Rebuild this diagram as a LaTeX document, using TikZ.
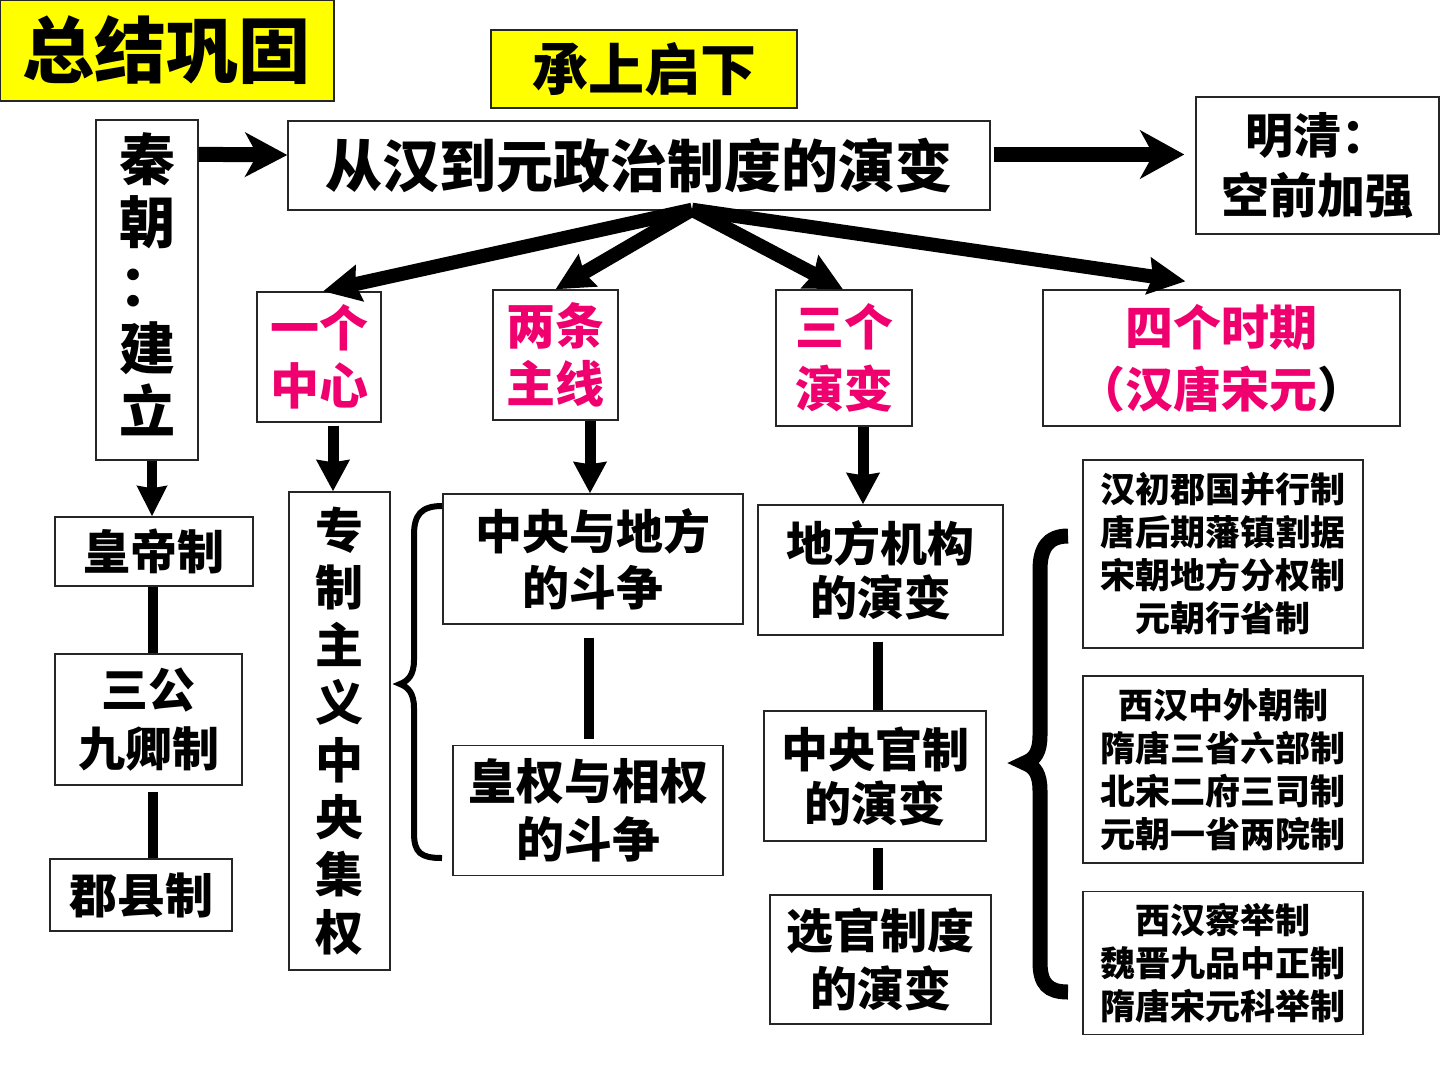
\documentclass[tikz,border=0pt]{standalone}
\usepackage{fontspec}
\setmainfont{Noto Sans CJK SC}
\usetikzlibrary{arrows.meta}
\definecolor{hlyellow}{RGB}{255,255,0}
\definecolor{keypink}{RGB}{240,0,110}
\newcommand\setfs[2]{\fontsize{#1}{#2}\selectfont}
\begin{document}
\begin{tikzpicture}[x=1pt,y=-1pt,
  box/.style={draw=black!85, line width=1.4pt, fill=white, inner sep=0pt, align=center},
  ybox/.style={box, fill=hlyellow},
  plain/.style={inner sep=0pt, align=center},
  thickarrow/.style={line width=15pt, -{Stealth[length=44pt,width=48pt,inset=13pt]}},
  fanarrow/.style={line width=14pt, -{Stealth[length=37pt,width=36pt,inset=4pt]}},
  downarrow/.style={line width=11pt, -{Stealth[length=31pt,width=32pt,inset=2pt]}},
  link/.style={line width=10pt},
  smallbrace/.style={line width=6pt},
  bigbrace/.style={line width=15pt}
]
\useasboundingbox (0,0) rectangle (1440,1080);
\fill[white] (0,0) rectangle (1440,1080);

% top row
\node[ybox, minimum width=334pt, minimum height=101pt, font=\bfseries\setfs{72}{80}] (title) at (167,50.5) {总结巩固};
\node[ybox, minimum width=306pt, minimum height=78pt, font=\bfseries\setfs{56}{60}] (cs) at (644,69) {承上启下};
\node[box, minimum width=102pt, minimum height=340pt] (qin) at (147,290) {};
\node[plain, font=\bfseries\setfs{56}{63}] (qintext) at (147,284) {秦\\朝\\：\\建\\立};
\node[box, minimum width=702pt, minimum height=89pt, font=\bfseries\setfs{57}{66}] (main) at (639,165.5) {从汉到元政治制度的演变};
\node[box, minimum width=243pt, minimum height=137pt, font=\bfseries\setfs{48}{60}] (mq) at (1317.5,165.5) {明清：\\空前加强};

% second row
\node[box, minimum width=124pt, minimum height=130pt, font=\bfseries\setfs{49}{58}, text=keypink] (yige) at (319,357) {一个\\中心};
\node[box, minimum width=125pt, minimum height=130pt, font=\bfseries\setfs{49}{58}, text=keypink] (liang) at (555.5,355) {两条\\主线};
\node[box, minimum width=136pt, minimum height=136pt, font=\bfseries\setfs{49}{62}, text=keypink] (sange) at (844,358) {三个\\演变};
\node[box, minimum width=357pt, minimum height=136pt, font=\bfseries\setfs{48}{62}, text=keypink] (sige) at (1221.5,358) {四个时期\\（汉唐宋元\textcolor{black}{）}};

% left column
\node[box, minimum width=198pt, minimum height=69pt, font=\bfseries\setfs{47}{58}] (huang) at (154,551.5) {皇帝制};
\node[box, minimum width=187pt, minimum height=131pt, font=\bfseries\setfs{47}{59}] (sangong) at (148.5,719.5) {三公\\九卿制};
\node[box, minimum width=182pt, minimum height=72pt, font=\bfseries\setfs{48}{58}] (junxian) at (141,895) {郡县制};

\node[box, minimum width=101pt, minimum height=478pt, font=\bfseries\setfs{48}{57.4}] (zz) at (339.5,731) {专\\制\\主\\义\\中\\央\\集\\权};

% two lines
\node[box, minimum width=300pt, minimum height=130pt, font=\bfseries\setfs{47}{56}] (zydf) at (593,559) {中央与地方\\的斗争};
\node[box, minimum width=270pt, minimum height=130pt, font=\bfseries\setfs{48}{58}] (hq) at (588,810.5) {皇权与相权\\的斗争};

% three changes
\node[box, minimum width=245pt, minimum height=130pt, font=\bfseries\setfs{47}{54}] (dfjg) at (880.5,570) {地方机构\\的演变};
\node[box, minimum width=222pt, minimum height=130pt, font=\bfseries\setfs{47}{54}] (zygz) at (875,776) {中央官制\\的演变};
\node[box, minimum width=221pt, minimum height=129pt, font=\bfseries\setfs{47}{58}] (xg) at (880.5,959.5) {选官制度\\的演变};

% right column
\node[box, minimum width=280pt, minimum height=188pt, font=\bfseries\setfs{35}{43}] (ra) at (1223,554) {汉初郡国并行制\\唐后期藩镇割据\\宋朝地方分权制\\元朝行省制};
\node[box, minimum width=280pt, minimum height=187pt, font=\bfseries\setfs{35}{43}] (rb) at (1223,769.5) {西汉中外朝制\\隋唐三省六部制\\北宋二府三司制\\元朝一省两院制};
\node[box, minimum width=280pt, minimum height=143pt, font=\bfseries\setfs{35}{43}] (rc) at (1223,963) {西汉察举制\\魏晋九品中正制\\隋唐宋元科举制};

% horizontal arrows
\draw[thickarrow, -{Stealth[length=42pt,width=44pt,inset=12pt]}] ([yshift=-35pt]qin.north east) -- ([yshift=10.5pt]main.west);
\draw[thickarrow, shorten <=3pt, shorten >=11pt] ([yshift=11pt]main.east) -- ([yshift=11pt]mq.west);

% fan arrows
\coordinate (fan) at ([xshift=53pt,yshift=1pt]main.south);
\draw[fanarrow] (fan) -- ([xshift=4pt]yige.north);
\draw[fanarrow] (fan) -- (liang.north);
\draw[fanarrow] (fan) -- ([xshift=-1pt]sange.north);
\draw[fanarrow] (fan) -- ([xshift=-36pt,yshift=8pt]sige.north);

% down arrows
\draw[downarrow, line width=10pt, -{Stealth[length=30pt,width=29pt,inset=2pt]}] ([xshift=-2pt]huang.north |- qin.south) -- ([xshift=-2pt]huang.north);
\draw[downarrow, shorten <=3pt] ([xshift=14pt]yige.south) -- ([xshift=14pt]yige.south |- zz.north);
\draw[downarrow] ([xshift=-3pt]zydf.north |- liang.south) -- ([xshift=-3pt]zydf.north);
\draw[downarrow] ([xshift=19pt]sange.south) -- ([xshift=19pt]sange.south |- dfjg.north);

% links
\draw[link] ([xshift=-1pt]huang.south) -- ([xshift=-1pt]huang.south |- sangong.north);
\draw[link, shorten <=6pt] ([xshift=-1pt]huang.south |- sangong.south) -- ([xshift=-1pt]huang.south |- junxian.north);
\draw[link, shorten <=13pt, shorten >=6pt] ([xshift=-4pt]zydf.south) -- ([xshift=-4pt]zydf.south |- hq.north);
\draw[link, shorten <=6pt] ([xshift=-2.5pt]dfjg.south) -- ([xshift=-2.5pt]dfjg.south |- zygz.north);
\draw[link, shorten <=6pt, shorten >=4pt] ([xshift=3pt]zygz.south) -- ([xshift=3pt]zygz.south |- xg.north);

% braces
\draw[smallbrace] (442,506) .. controls (421,506) and (414,515) .. (414,535) -- (414,660) .. controls (414,675) and (408,681) .. (400,684) .. controls (408,687) and (414,693) .. (414,708) -- (414,833) .. controls (414,853) and (421,858) .. (442,858);
\draw[bigbrace] (1068,536) .. controls (1048,536) and (1040,548) .. (1040,570) -- (1040,735) .. controls (1040,752) and (1035,759) .. (1025,763) .. controls (1035,767) and (1040,774) .. (1040,791) -- (1040,962) .. controls (1040,984) and (1048,992) .. (1068,992);
\end{tikzpicture}
\end{document}
